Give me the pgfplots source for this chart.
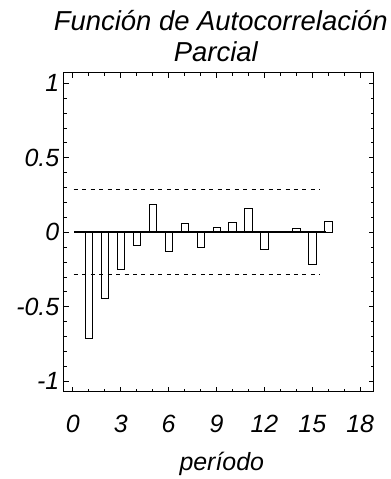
\documentclass[border=0pt]{standalone}
\usepackage{fontspec}
\setmainfont{Liberation Sans}
\usepackage{pgfplots}
\pgfplotsset{compat=1.18}
\begin{document}
\begin{tikzpicture}
\begin{axis}[
  scale only axis,
  width=311pt, height=320pt,
  xmin=-0.57, xmax=18.85,
  ymin=-1.07, ymax=1.07,
  xtick={0,3,6,9,12,15,18},
  xticklabels={0,3,6,9,12,15,18},
  ytick={-1,-0.5,0,0.5,1},
  yticklabels={-1,-0.5,0,0.5,1},
  minor x tick num=2,
  minor y tick num=4,
  major tick length=5pt,
  minor tick length=3pt,
  tick style={black, line width=0.8pt},
  axis line style={line width=1.2pt},
  ticklabel style={font=\fontsize{25}{30}\selectfont\itshape},
  xticklabel style={anchor=base, yshift=-41pt},
  yticklabel style={xshift=-1pt},
  xlabel={período},
  xlabel style={font=\fontsize{25}{30}\selectfont\itshape, at={(axis description cs:0.5,0)}, anchor=base, yshift=-79pt, xshift=3pt},
  clip=false,
]
\addplot[ybar, bar width=7.5pt, draw=black, fill=white, line width=0.6pt] coordinates {
 (1,-0.71) (2,-0.445) (3,-0.25) (4,-0.088) (5,0.19) (6,-0.128) (7,0.063) (8,-0.099)
 (9,0.035) (10,0.068) (11,0.16) (12,-0.115) (13,0.006) (14,0.028) (15,-0.217) (16,0.075)
};
\addplot[black, line width=1.6pt] coordinates {(0.1,0) (15.85,0)};
\addplot[black, line width=1pt, dash pattern=on 4pt off 4.5pt] coordinates {(0.05,0.285) (15.5,0.285)};
\addplot[black, line width=1pt, dash pattern=on 4pt off 4.5pt] coordinates {(0.05,-0.285) (15.5,-0.285)};
\node[font=\fontsize{27.5}{33}\selectfont\itshape, anchor=base] at (axis description cs:0.5,1) [yshift=42pt, xshift=2pt] {Función de Autocorrelación};
\node[font=\fontsize{27.5}{33}\selectfont\itshape, anchor=base] at (axis description cs:0.5,1) [yshift=11pt, xshift=-3pt] {Parcial};
\end{axis}
\path[use as bounding box] (-64pt,-86pt) rectangle (325pt,393pt);
\end{tikzpicture}
\end{document}
